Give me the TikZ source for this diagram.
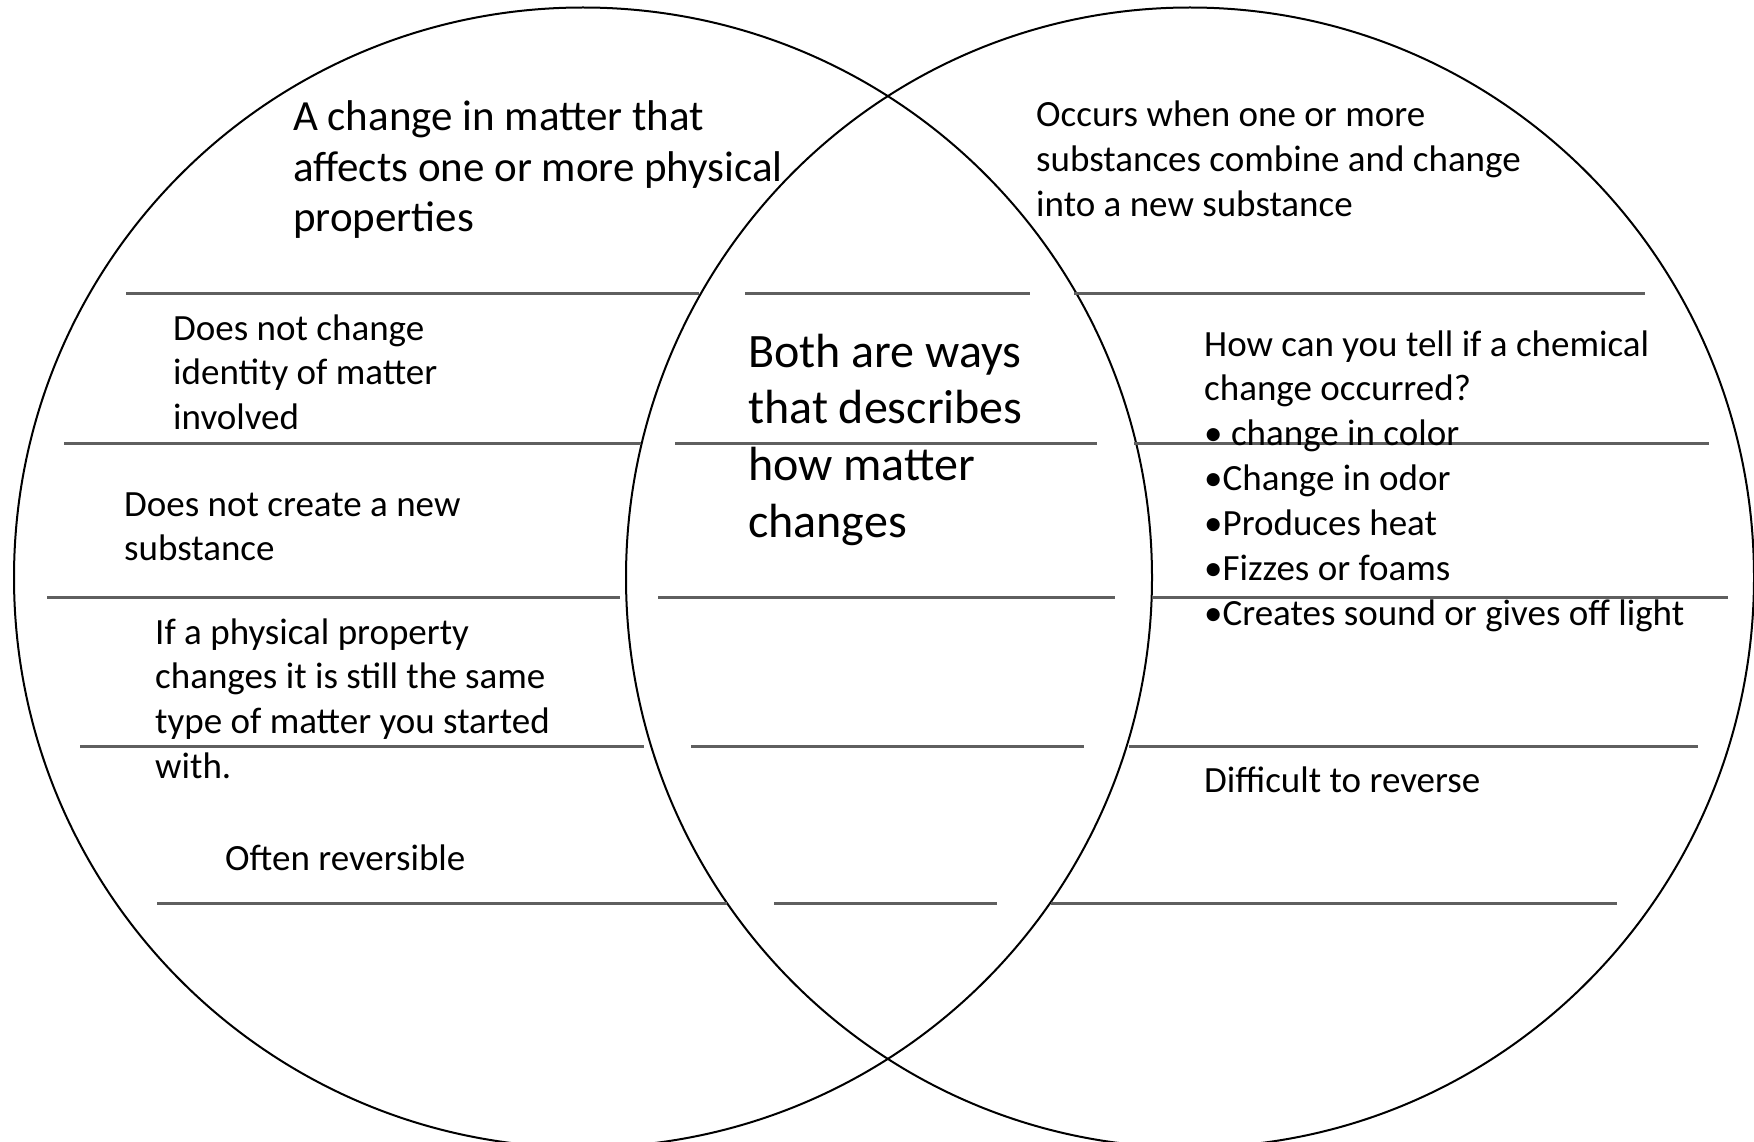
\documentclass[tikz,border=0pt]{standalone}
\usepackage{fontspec}
\setmainfont{Carlito}
\begin{document}
\begin{tikzpicture}[x=1pt,y=-1pt,
  ring/.style={draw=black, line width=2pt},
  rule/.style={draw={rgb,255:red,95;green,95;blue,95}, line width=3pt},
  small/.style={anchor=base west, inner sep=0pt, text width=600pt, align=left, font=\fontsize{37}{44.9}\selectfont, execute at begin node={\spaceskip 8.4pt\relax\xspaceskip 8.4pt\relax}},
  big/.style={anchor=base west, inner sep=0pt, text width=600pt, align=left, font=\fontsize{43}{50.3}\selectfont, execute at begin node={\spaceskip 9.7pt\relax}},
  mid/.style={anchor=base west, inner sep=0pt, text width=400pt, align=left, font=\fontsize{48}{56.7}\selectfont, execute at begin node={\spaceskip 10.8pt\relax}}]
\useasboundingbox (0,0) rectangle (1754,1142);
\clip (0,0) rectangle (1754,1142);
\fill[white] (0,0) rectangle (1754,1142);
% circles
\draw[ring] (583,577.5) ellipse [x radius=569, y radius=570];
\draw[ring] (1190,577.5) ellipse [x radius=564, y radius=570];
% rules: row 1
\draw[rule] (126,293) -- (699,293);
\draw[rule] (745,293) -- (1030,293);
\draw[rule] (1074,293) -- (1645,293);
% row 2
\draw[rule] (64,443) -- (641,443);
\draw[rule] (675,443) -- (1097,443);
\draw[rule] (1134,443) -- (1709,443);
% row 3
\draw[rule] (47,597) -- (620,597);
\draw[rule] (658,597) -- (1115,597);
\draw[rule] (1152,597) -- (1728,597);
% row 4
\draw[rule] (80,746) -- (644,746);
\draw[rule] (691,746) -- (1084,746);
\draw[rule] (1129,746) -- (1698,746);
% row 5
\draw[rule] (157,903) -- (727,903);
\draw[rule] (774,903) -- (997,903);
\draw[rule] (1051,903) -- (1617,903);
% texts
\node[big] (phys) at (293,131) {A change in matter that\\affects one or more physical\\properties};
\node[small] (chem) at (1036,127) {Occurs when one or more\\substances combine and change\\into a new substance};
\node[small] (ident) at (173,340) {Does not change\\identity of matter\\involved};
\node[small] (newsub) at (124,516) {Does not create a new\\substance};
\node[small] (same) at (155,644) {If a physical property\\changes it is still the same\\type of matter you started\\with.};
\node[small] (rev) at (225,870) {Often reversible};
\node[mid] (both) at (748,367) {Both are ways\\that describes\\how matter\\changes};
\node[small] (tell) at (1204,356) {How can you tell if a chemical\\change occurred?\\• change in color\\•Change in odor\\•Produces heat\\•Fizzes or foams\\•Creates sound or gives off light};
\node[small] (diff) at (1204,792) {Difficult to reverse};
\end{tikzpicture}
\end{document}
